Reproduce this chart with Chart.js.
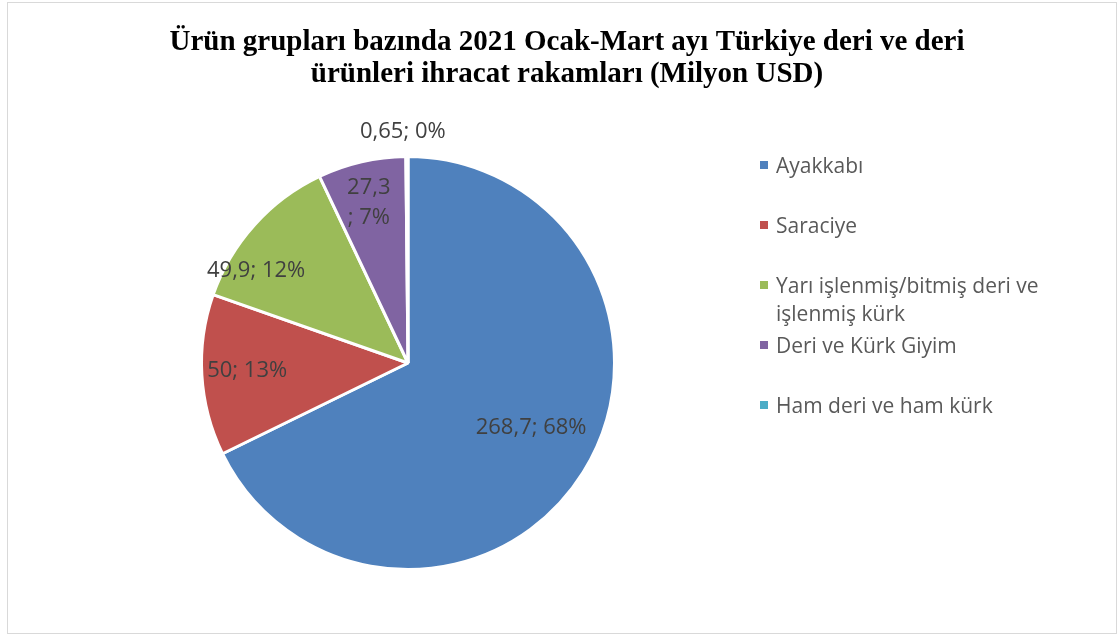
<!DOCTYPE html>
<html>
<head>
<meta charset="utf-8">
<script src="https://cdn.jsdelivr.net/npm/chart.js@4"></script>
<style>
    body { margin: 0; background: #fff; }
    #wrap { position: relative; width: 1118px; height: 636px; }
    #frame { position: absolute; left: 7px; top: 2px; width: 1108px; height: 630px; border: 1px solid #d9d9d9; }
    #legend { position: absolute; left: 0; top: 0; font-family: 'Open Sans', sans-serif; font-size: 21px; color: #595959; }
    .item { position: absolute; left: 776px; width: 300px; line-height: 28px; }
    .box { position: absolute; left: -16px; top: 10px; width: 8px; height: 8px; }
</style>
</head>
<body>
<div id="wrap">
    <div id="frame"></div>
    <canvas id="pieChart" width="1118" height="636"></canvas>
    <div id="legend"></div>
</div>
<script>
const categories = ['Ayakkabı', 'Saraciye', 'Yarı işlenmiş/bitmiş deri ve işlenmiş kürk', 'Deri ve Kürk Giyim', 'Ham deri ve ham kürk'];
const exportValues = [268.7, 50, 49.9, 27.3, 0.65];
const percentLabels = [68, 13, 12, 7, 0];
const sliceColors = ['#4F81BD', '#C0504D', '#9BBB59', '#8064A2', '#4BACC6'];
const titleLines = ['Ürün grupları bazında 2021 Ocak-Mart ayı Türkiye deri ve deri', 'ürünleri ihracat rakamları (Milyon USD)'];

// label placement: radial factor of the radius + small shift, per slice
const labelPos = [
    { r: 0.68, dx: 4, dy: -10 },
    { r: 0.78, dx: 0, dy: -2 },
    { r: 0.82, dx: -26, dy: 21 },
    { r: 0.78, dx: -3, dy: -3, wrap: true },
    { r: 1.12, dx: -4, dy: 0 }
];

const fmt = v => String(v).replace('.', ',');

const titleText = {
    id: 'titleText',
    afterDraw(chart) {
        const ctx = chart.ctx;
        ctx.save();
        ctx.font = 'bold 29px "Liberation Serif", "Times New Roman", serif';
        ctx.fillStyle = '#000000';
        ctx.textAlign = 'center';
        ctx.textBaseline = 'middle';
        titleLines.forEach((line, i) => ctx.fillText(line, 567, 43 + i * 32));
        ctx.restore();
    }
};

const sliceLabels = {
    id: 'sliceLabels',
    afterDatasetsDraw(chart) {
        const ctx = chart.ctx;
        const arcs = chart.getDatasetMeta(0).data;
        ctx.save();
        ctx.font = '22px "Open Sans"';
        ctx.fillStyle = '#404040';
        ctx.textAlign = 'center';
        ctx.textBaseline = 'middle';
        arcs.forEach((arc, i) => {
            const p = labelPos[i];
            const mid = (arc.startAngle + arc.endAngle) / 2;
            const x = arc.x + Math.cos(mid) * arc.outerRadius * p.r + p.dx;
            const y = arc.y + Math.sin(mid) * arc.outerRadius * p.r + p.dy;
            if (p.wrap) {
                ctx.fillText(fmt(exportValues[i]), x, y - 15);
                ctx.fillText('; ' + percentLabels[i] + '%', x, y + 15);
            } else {
                ctx.fillText(fmt(exportValues[i]) + '; ' + percentLabels[i] + '%', x, y);
            }
        });
        ctx.restore();
    }
};

const ctx = document.getElementById('pieChart').getContext('2d');
new Chart(ctx, {
    type: 'pie',
    data: {
        labels: categories,
        datasets: [{
            data: exportValues,
            backgroundColor: sliceColors,
            borderColor: '#ffffff',
            borderWidth: 3
        }]
    },
    options: {
        responsive: false,
        animation: false,
        layout: { padding: { left: 200, right: 502, top: 110, bottom: 20 } },
        plugins: {
            legend: { display: false },
            tooltip: { enabled: false },
            title: { display: false }
        }
    },
    plugins: [sliceLabels, titleText]
});

// legend
const legend = document.getElementById('legend');
categories.forEach((name, i) => {
    const item = document.createElement('div');
    item.className = 'item';
    item.style.top = (151 + 60 * i) + 'px';
    const box = document.createElement('span');
    box.className = 'box';
    box.style.background = sliceColors[i];
    item.appendChild(box);
    item.appendChild(document.createTextNode(name));
    legend.appendChild(item);
});
</script>
</body>
</html>
